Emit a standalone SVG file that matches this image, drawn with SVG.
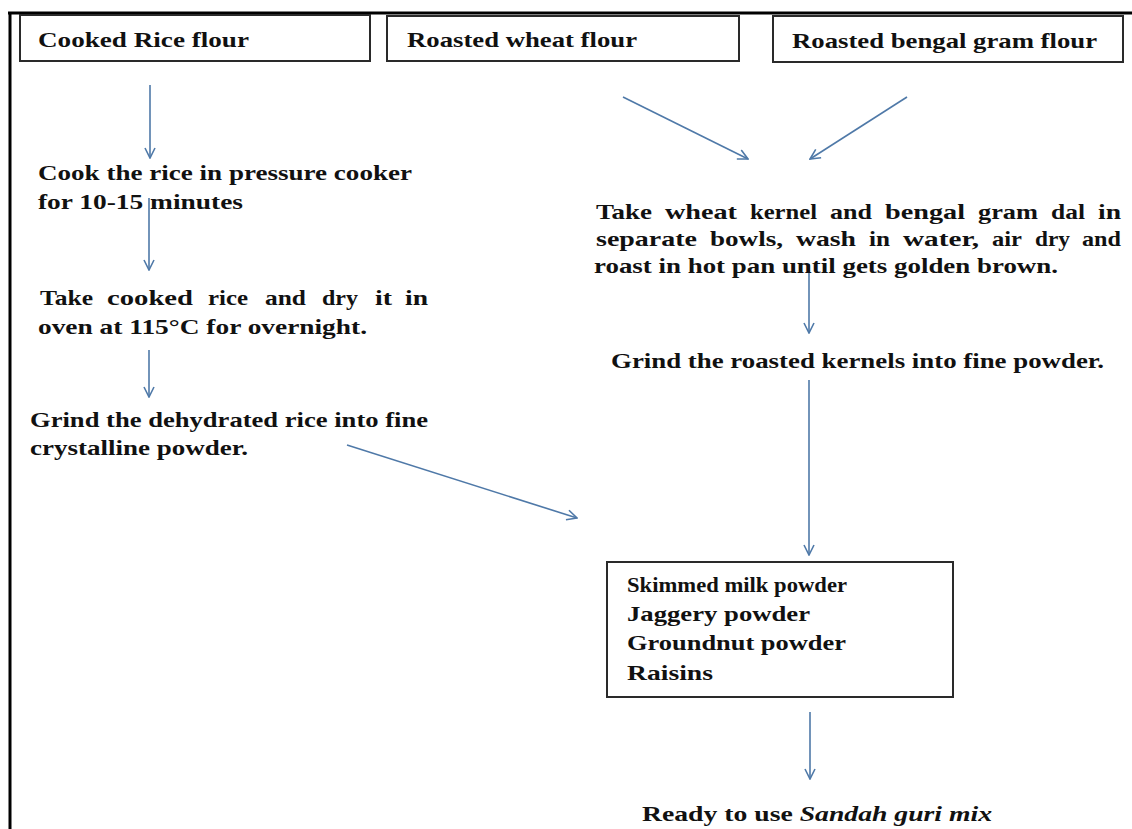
<svg xmlns="http://www.w3.org/2000/svg" width="1132" height="829" viewBox="0 0 1132 829">
<style>
.t{font-family:"Liberation Serif","Times New Roman",serif;font-weight:bold;font-size:22px;fill:#111}
.box{fill:#fff;stroke:#2a2a2a;stroke-width:2}
.arr{stroke:#4f79a8;stroke-width:1.6;fill:none;marker-end:url(#ah)}
</style>
<defs>
<marker id="ah" viewBox="0 0 12 12" refX="11" refY="6" markerWidth="12" markerHeight="12" markerUnits="userSpaceOnUse" orient="auto">
<path d="M1,1 L11,6 L1,11" fill="none" stroke="#4f79a8" stroke-width="1.6"/>
</marker>
</defs>
<rect width="1132" height="829" fill="#fff"/>
<g id="frame">
<line x1="8" y1="13" x2="1132" y2="13" stroke="#000" stroke-width="3"/>
<line x1="10" y1="12" x2="10" y2="829" stroke="#000" stroke-width="3"/>
</g>
<g id="connectors">
<line class="arr" x1="150" y1="85" x2="150" y2="158"/>
<line class="arr" x1="149" y1="198" x2="149" y2="270"/>
<line class="arr" x1="149" y1="350" x2="149" y2="397"/>
<line class="arr" x1="623" y1="97" x2="748" y2="159"/>
<line class="arr" x1="907" y1="97" x2="810" y2="159"/>
<line class="arr" x1="809" y1="264" x2="809" y2="333"/>
<line class="arr" x1="809" y1="380" x2="809" y2="555"/>
<line class="arr" x1="347" y1="445" x2="577" y2="518"/>
<line class="arr" x1="810" y1="712" x2="810" y2="779"/>
</g>
<g id="n-rice-flour">
<rect class="box" x="20" y="15" width="350" height="46"/>
<text class="t" x="38" y="47" textLength="211" lengthAdjust="spacingAndGlyphs">Cooked Rice flour</text>
</g>
<g id="n-wheat-flour">
<rect class="box" x="387" y="16" width="352" height="45"/>
<text class="t" x="407" y="47" textLength="230" lengthAdjust="spacingAndGlyphs">Roasted wheat flour</text>
</g>
<g id="n-gram-flour">
<rect class="box" x="773" y="16" width="350" height="46"/>
<text class="t" x="792" y="48" textLength="305" lengthAdjust="spacingAndGlyphs">Roasted bengal gram flour</text>
</g>
<g id="n-cook">
<text class="t" x="38" y="180" textLength="374" lengthAdjust="spacingAndGlyphs">Cook the rice in pressure cooker</text>
<text class="t" x="38" y="209" textLength="205" lengthAdjust="spacingAndGlyphs">for 10-15 minutes</text>
</g>
<g id="n-dry">
<text class="t" y="305"><tspan x="40" textLength="53" lengthAdjust="spacingAndGlyphs">Take</tspan><tspan x="107" textLength="86" lengthAdjust="spacingAndGlyphs">cooked</tspan><tspan x="208" textLength="40" lengthAdjust="spacingAndGlyphs">rice</tspan><tspan x="265" textLength="41" lengthAdjust="spacingAndGlyphs">and</tspan><tspan x="322" textLength="36" lengthAdjust="spacingAndGlyphs">dry</tspan><tspan x="375" textLength="17" lengthAdjust="spacingAndGlyphs">it</tspan><tspan x="405" textLength="23" lengthAdjust="spacingAndGlyphs">in</tspan></text>
<text class="t" x="38" y="334" textLength="329" lengthAdjust="spacingAndGlyphs">oven at 115°C for overnight.</text>
</g>
<g id="n-grind-rice">
<text class="t" x="30" y="427" textLength="398" lengthAdjust="spacingAndGlyphs">Grind the dehydrated rice into fine</text>
<text class="t" x="30" y="455" textLength="218" lengthAdjust="spacingAndGlyphs">crystalline powder.</text>
</g>
<g id="n-roast">
<text class="t" y="219"><tspan x="596" textLength="56" lengthAdjust="spacingAndGlyphs">Take</tspan><tspan x="665" textLength="72" lengthAdjust="spacingAndGlyphs">wheat</tspan><tspan x="750" textLength="67" lengthAdjust="spacingAndGlyphs">kernel</tspan><tspan x="830" textLength="42" lengthAdjust="spacingAndGlyphs">and</tspan><tspan x="885" textLength="80" lengthAdjust="spacingAndGlyphs">bengal</tspan><tspan x="978" textLength="60" lengthAdjust="spacingAndGlyphs">gram</tspan><tspan x="1051" textLength="34" lengthAdjust="spacingAndGlyphs">dal</tspan><tspan x="1098" textLength="23" lengthAdjust="spacingAndGlyphs">in</tspan></text>
<text class="t" y="246"><tspan x="596" textLength="101" lengthAdjust="spacingAndGlyphs">separate</tspan><tspan x="710" textLength="73" lengthAdjust="spacingAndGlyphs">bowls,</tspan><tspan x="796" textLength="60" lengthAdjust="spacingAndGlyphs">wash</tspan><tspan x="869" textLength="21" lengthAdjust="spacingAndGlyphs">in</tspan><tspan x="903" textLength="76" lengthAdjust="spacingAndGlyphs">water,</tspan><tspan x="992" textLength="30" lengthAdjust="spacingAndGlyphs">air</tspan><tspan x="1035" textLength="35" lengthAdjust="spacingAndGlyphs">dry</tspan><tspan x="1082" textLength="39" lengthAdjust="spacingAndGlyphs">and</tspan></text>
<text class="t" x="594" y="273" textLength="464" lengthAdjust="spacingAndGlyphs">roast in hot pan until gets golden brown.</text>
</g>
<g id="n-grind-kernels">
<text class="t" x="611" y="368" textLength="493" lengthAdjust="spacingAndGlyphs">Grind the roasted kernels into fine powder.</text>
</g>
<g id="n-ingredients">
<rect class="box" x="607" y="562" width="346" height="135"/>
<text class="t" x="627" y="592" textLength="220" lengthAdjust="spacingAndGlyphs">Skimmed milk powder</text>
<text class="t" x="627" y="621" textLength="183" lengthAdjust="spacingAndGlyphs">Jaggery powder</text>
<text class="t" x="627" y="650" textLength="219" lengthAdjust="spacingAndGlyphs">Groundnut powder</text>
<text class="t" x="627" y="680" textLength="86" lengthAdjust="spacingAndGlyphs">Raisins</text>
</g>
<g id="n-ready">
<text class="t" x="642" y="821" textLength="350" lengthAdjust="spacingAndGlyphs">Ready to use <tspan font-style="italic">Sandah guri  mix</tspan></text>
</g>
</svg>
